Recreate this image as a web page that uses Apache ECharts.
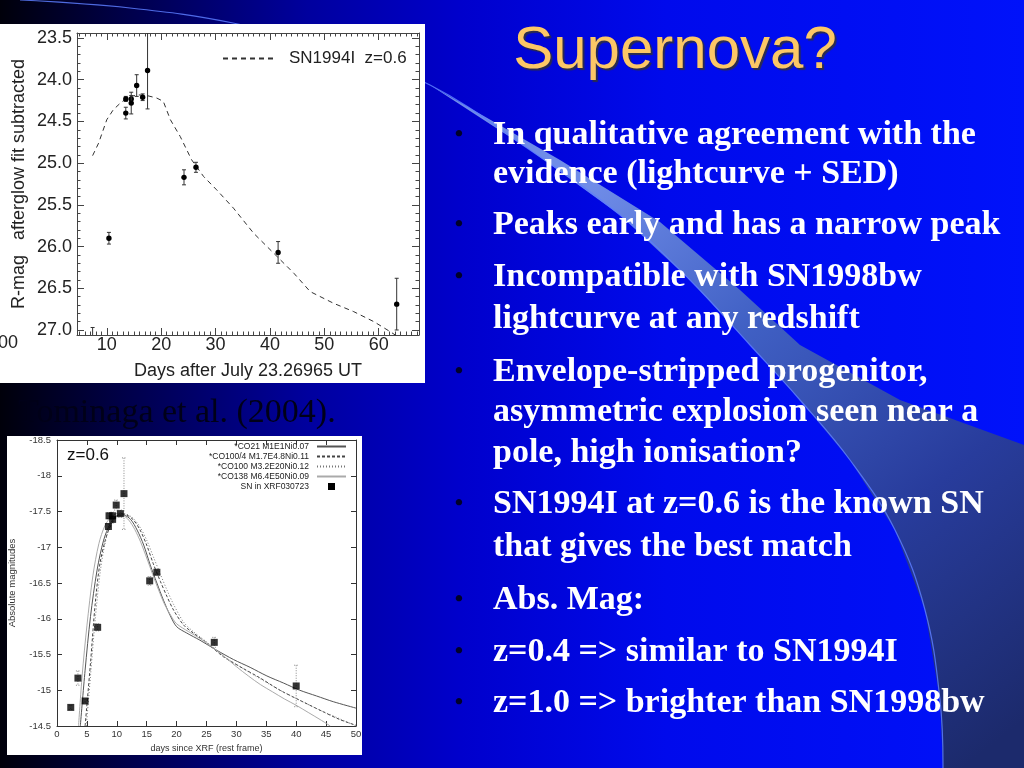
<!DOCTYPE html>
<html><head><meta charset="utf-8">
<script src="https://cdn.jsdelivr.net/npm/echarts@6/dist/echarts.min.js"></script>
<style>html,body{margin:0;padding:0;background:#000;overflow:hidden}#c{width:1024px;height:768px}</style>
</head><body><div id="c"></div>
<script>
// ---------- Chart 1 (R-mag, afterglow fit subtracted) ----------
const days1 = [7.4, 10.4, 13.5, 13.5, 14.5, 14.5, 15.5, 16.6, 17.5, 24.2, 26.4, 41.5, 63.3];
const mags1 = [27.3, 25.9, 24.23, 24.4, 24.23, 24.28, 24.07, 24.21, 23.89, 25.17, 25.05, 26.07, 26.69];
const errs1 = [0.33, 0.07, 0.03, 0.07, 0.04, 0.13, 0.13, 0.04, 0.46, 0.09, 0.06, 0.13, 0.31];
const snDays = [7.4, 8.5, 10, 11.2, 12.5, 13.7, 15.5, 17.4, 19.2, 20.4, 21.7, 23.5, 25.6, 27.8, 30.2, 33.3, 37, 40.7, 44.4, 47.4, 51.7, 55.4, 59.1, 62.1, 63.5];
const snMags = [24.91, 24.76, 24.48, 24.36, 24.28, 24.22, 24.18, 24.19, 24.22, 24.26, 24.48, 24.68, 24.96, 25.16, 25.32, 25.54, 25.84, 26.08, 26.32, 26.54, 26.68, 26.78, 26.9, 27.02, 27.08];
const xTicks1 = [10, 20, 30, 40, 50, 60];
const yTicks1 = [23.5, 24.0, 24.5, 25.0, 25.5, 26.0, 26.5, 27.0];
const legend1 = 'SN1994I  z=0.6';
const xName1 = 'Days after July 23.26965 UT';
const yName1 = 'R-mag   afterglow fit subtracted';

// ---------- Chart 2 (absolute magnitudes, Tominaga et al.) ----------
const days2 = [2.3, 3.5, 4.7, 6.8, 8.6, 8.7, 9.3, 9.3, 9.9, 10.6, 11.2, 15.5, 16.7, 26.3, 40.0];
const mags2 = [-14.76, -15.17, -14.85, -15.88, -17.29, -17.44, -17.44, -17.39, -17.59, -17.47, -17.75, -16.53, -16.65, -15.67, -15.06];
const errs2 = [0.03, 0.1, 0.03, 0.05, 0.04, 0.04, 0.05, 0.05, 0.07, 0.05, 0.5, 0.06, 0.03, 0.07, 0.29];
const co21Days = [3.9, 4.7, 5.6, 6.7, 7.8, 8.9, 10, 11.1, 12.3, 13.4, 14.5, 15.6, 16.7, 17.8, 18.9, 20, 21.7, 23.9, 26.7, 29.5, 32.3, 35.1, 37.9, 40.6, 43.4, 46.2, 50];
const co21Mags = [-14.5, -15.28, -16.03, -16.68, -17.1, -17.33, -17.44, -17.45, -17.39, -17.24, -17.03, -16.75, -16.5, -16.26, -16.05, -15.89, -15.8, -15.7, -15.56, -15.43, -15.32, -15.2, -15.1, -15.0, -14.92, -14.84, -14.75];
const co1004Days = [4.7, 5.6, 6.4, 7.2, 8.4, 9.5, 10.6, 11.7, 12.8, 13.9, 15, 16.1, 17.3, 18.4, 19.5, 21.2, 22.8, 25.1, 27.8, 30.6, 34, 37.3, 40.6, 44, 47.3, 50];
const co1004Mags = [-14.5, -15.38, -16.22, -16.78, -17.19, -17.38, -17.47, -17.45, -17.38, -17.24, -17.03, -16.77, -16.52, -16.31, -16.12, -15.91, -15.8, -15.66, -15.47, -15.33, -15.17, -15.0, -14.86, -14.72, -14.59, -14.51];
const co100Days = [4.9, 5.6, 6.4, 7.3, 8.3, 9.4, 10.6, 11.7, 12.8, 13.9, 15, 16.1, 17.3, 18.4, 19.5, 21.2, 22.8, 25.1, 27.8, 30.6, 34, 37.3, 40.6, 44, 47.3, 50];
const co100Mags = [-14.5, -15.2, -16.0, -16.7, -17.15, -17.37, -17.47, -17.46, -17.4, -17.28, -17.1, -16.87, -16.62, -16.4, -16.2, -15.95, -15.82, -15.67, -15.48, -15.33, -15.16, -15.0, -14.86, -14.72, -14.6, -14.5];
const co138Days = [3.6, 4.2, 5, 6, 7, 8, 9, 10, 11, 12, 13, 14, 15, 16, 17, 18, 19, 20, 22, 24, 26, 28, 30, 32, 34, 36, 38, 40, 42, 44, 45.7];
const co138Mags = [-14.5, -15.2, -15.9, -16.6, -17.05, -17.3, -17.42, -17.47, -17.45, -17.38, -17.25, -17.07, -16.85, -16.62, -16.4, -16.2, -16.05, -15.93, -15.82, -15.72, -15.6, -15.47, -15.33, -15.2, -15.08, -14.98, -14.88, -14.79, -14.69, -14.59, -14.5];
const modelNames = ['*CO21 M1E1Ni0.07', '*CO100/4 M1.7E4.8Ni0.11', '*CO100 M3.2E20Ni0.12', '*CO138 M6.4E50Ni0.09'];
const dataName2 = 'SN in XRF030723';
const xName2 = 'days since XRF (rest frame)';
const yName2 = 'Absolute magnitudes';
const zLabel2 = 'z=0.6';

// ---------- Slide text ----------
const titleText = 'Supernova?';
const bulletLines = [
  ['In qualitative agreement with the', true],
  ['evidence (lightcurve + SED)', false],
  ['Peaks early and has a narrow peak', true],
  ['Incompatible with SN1998bw', true],
  ['lightcurve at any redshift', false],
  ['Envelope-stripped progenitor,', true],
  ['asymmetric explosion seen near a', false],
  ['pole, high ionisation?', false],
  ['SN1994I at z=0.6 is the known SN', true],
  ['that gives the best match', false],
  ['Abs. Mag:', true],
  ['z=0.4 => similar to SN1994I', true],
  ['z=1.0 => brighter than SN1998bw', true]
];
const bulletY = [135, 174, 225, 277, 319, 372, 412, 453, 504, 547, 600, 652, 703];
const citation = 'Tominaga et al. (2004).';

const zip = (a, b) => a.map((v, i) => [v, b[i]]);
const xMinor1 = []; for (let d = 5; d <= 67; d++) xMinor1.push(d);
const yMinor1 = []; for (let k = 235; k <= 270; k++) yMinor1.push(k / 10);

const SANS = 'Liberation Sans, Arial, Helvetica, sans-serif';
const SERIF = 'Liberation Serif, Times New Roman, serif';

function errRender(color, dash, withDot) {
  return function (params, api) {
    const x = api.value(0), y = api.value(1), e = api.value(2);
    const c = api.coord([x, y]);
    const t = api.coord([x, y - e]);
    const b = api.coord([x, y + e]);
    const cap = 2;
    const st = { stroke: color, lineWidth: 1, lineDash: dash };
    const ch = [
      { type: 'line', shape: { x1: c[0], y1: t[1], x2: c[0], y2: b[1] }, style: st },
      { type: 'line', shape: { x1: c[0] - cap, y1: t[1], x2: c[0] + cap, y2: t[1] }, style: st },
      { type: 'line', shape: { x1: c[0] - cap, y1: b[1], x2: c[0] + cap, y2: b[1] }, style: st }
    ];
    if (withDot) ch.push({ type: 'circle', shape: { cx: c[0], cy: c[1], r: 2.7 }, style: { fill: '#000' } });
    return { type: 'group', children: ch };
  };
}

const G1 = { left: 77, top: 33, width: 342, height: 302 };
const G2 = { left: 57, top: 440, width: 299, height: 286 };
const ax1 = '#444';

function minorX(pos) {
  return { gridIndex: 1, type: 'value', position: pos, min: 4.53, max: 67.4,
    axisLine: { show: false }, splitLine: { show: false }, axisLabel: { show: false },
    axisTick: { show: true, inside: true, length: 3.5, customValues: xMinor1, lineStyle: { color: ax1 } } };
}
function minorY(pos) {
  return { gridIndex: 1, type: 'value', position: pos, inverse: true, min: 23.44, max: 27.06,
    axisLine: { show: false }, splitLine: { show: false }, axisLabel: { show: false },
    axisTick: { show: true, inside: true, length: 3.5, customValues: yMinor1, lineStyle: { color: ax1 } } };
}

// Background decoration
const wedgeLower = [[430,85],[530,150],[620,215],[690,280],[750,345],[800,400],[850,460],[895,530],[925,610],[940,700],[943,768]];
const wedgeUpper = [[430,85],[560,160],[660,222],[740,290],[800,345],[900,400],[1024,445]];
const wedgePts = wedgeUpper.concat([[1024,768]]).concat(wedgeLower.slice().reverse());
const arcPts = [[20,0],[130,8],[233,23],[330,48],[430,85]].concat(wedgeLower.slice(1));

const graphics = [
  { type: 'rect', zlevel: -1, z: 0, shape: { x: 0, y: 0, width: 1024, height: 768 },
    style: { fill: new echarts.graphic.LinearGradient(0, 0, 1, 0, [
      { offset: 0, color: '#00000a' }, { offset: 0.12, color: '#000048' }, { offset: 0.3, color: '#00009e' },
      { offset: 0.45, color: '#0000cc' }, { offset: 0.65, color: '#000aec' }, { offset: 1, color: '#0012fa' }]) } },
  { type: 'polygon', zlevel: -1, z: 1, shape: { points: wedgePts },
    style: { fill: new echarts.graphic.LinearGradient(600, 180, 1024, 720, [
      { offset: 0, color: '#6f8ce8' }, { offset: 0.3, color: '#4060c4' }, { offset: 0.65, color: '#283c9c' }, { offset: 1, color: '#1c2a6c' }], true) } },
  { type: 'polyline', zlevel: -1, z: 2, shape: { points: arcPts, smooth: 0.4 },
    style: { stroke: '#5c7cff', lineWidth: 1.2, fill: null, opacity: 0.85 } },
  { type: 'rect', zlevel: -1, z: 3, shape: { x: 0, y: 24, width: 425, height: 359 }, style: { fill: '#ffffff' } },
  { type: 'rect', zlevel: -1, z: 3, shape: { x: 7, y: 436, width: 355, height: 319 }, style: { fill: '#ffffff' } },
  { type: 'text', z: 10, style: { x: 675, y: 51, text: titleText, font: '60px ' + SANS, fill: '#fcc766',
      align: 'center', verticalAlign: 'middle', textShadowColor: 'rgba(50,50,50,0.85)', textShadowOffsetX: 2, textShadowOffsetY: 2, textShadowBlur: 1 } },
  { type: 'text', z: 10, style: { x: 18, y: 413, text: citation, font: '34px ' + SERIF, fill: '#000018', verticalAlign: 'middle' } },
  { type: 'text', z: 10, style: { x: -2, y: 343, text: '00', font: '18px ' + SANS, fill: '#222', verticalAlign: 'middle' } },
  { type: 'text', z: 10, style: { x: 67, y: 455, text: zLabel2, font: '17px ' + SANS, fill: '#111', verticalAlign: 'middle' } }
];
bulletLines.forEach((bl, i) => {
  if (bl[1]) graphics.push({ type: 'text', z: 10, style: { x: 459, y: bulletY[i], text: '\u2022', font: 'bold 24px ' + SERIF, fill: '#00002a', align: 'center', verticalAlign: 'middle' } });
  graphics.push({ type: 'text', z: 10, style: { x: 493, y: bulletY[i], text: bl[0], font: 'bold 34px ' + SERIF, fill: '#ffffff', verticalAlign: 'middle' } });
});

const option = {
  animation: false,
  backgroundColor: 'transparent',
  textStyle: { fontFamily: SANS },
  grid: [Object.assign({}, G1), Object.assign({}, G1), Object.assign({}, G2)],
  legend: [
    { data: [legend1], left: 222, top: 50, padding: 0, itemWidth: 51, itemHeight: 12, itemStyle: { opacity: 0 },
      textStyle: { fontSize: 17, color: '#222', fontFamily: SANS, padding: [0, 0, 0, 10] }, selectedMode: false },
    { data: modelNames.concat([{ name: dataName2, icon: 'path://M0,0L1,0L1,1L0,1Z', itemStyle: { opacity: 1 } }]),
      orient: 'vertical', align: 'right', itemStyle: { opacity: 0 },
      right: 677, top: 442, padding: 0, itemWidth: 29, itemHeight: 7, itemGap: 1, selectedMode: false,
      textStyle: { fontSize: 8.5, lineHeight: 7, color: '#222', fontFamily: SANS, padding: [0, 3, 0, 0] } }
  ],
  xAxis: [
    { gridIndex: 0, type: 'value', position: 'bottom', min: 4.53, max: 67.4, splitLine: { show: false },
      axisLine: { show: true, onZero: false, lineStyle: { color: ax1 } },
      axisTick: { show: true, inside: true, length: 7, customValues: xTicks1, lineStyle: { color: ax1 } },
      axisLabel: { customValues: xTicks1, fontSize: 18, color: '#222', margin: 1 },
      name: xName1, nameLocation: 'middle', nameGap: 27, nameTextStyle: { fontSize: 18, color: '#222' } },
    { gridIndex: 0, type: 'value', position: 'top', min: 4.53, max: 67.4, splitLine: { show: false },
      axisLine: { show: true, onZero: false, lineStyle: { color: ax1 } },
      axisTick: { show: true, inside: true, length: 7, customValues: xTicks1, lineStyle: { color: ax1 } },
      axisLabel: { show: false } },
    minorX('bottom'), minorX('top'),
    { gridIndex: 2, type: 'value', position: 'bottom', min: 0, max: 50, interval: 5, splitLine: { show: false },
      axisLine: { show: true, onZero: false, lineStyle: { color: '#333' } },
      axisTick: { show: true, inside: true, length: 5, lineStyle: { color: '#333' } },
      axisLabel: { fontSize: 9.5, color: '#333', margin: 3 },
      name: xName2, nameLocation: 'middle', nameGap: 18, nameTextStyle: { fontSize: 9, color: '#333' } },
    { gridIndex: 2, type: 'value', position: 'top', min: 0, max: 50, interval: 5, splitLine: { show: false },
      axisLine: { show: true, onZero: false, lineStyle: { color: '#333' } },
      axisTick: { show: true, inside: true, length: 5, lineStyle: { color: '#333' } },
      axisLabel: { show: false } }
  ],
  yAxis: [
    { gridIndex: 0, type: 'value', position: 'left', inverse: true, min: 23.44, max: 27.06, splitLine: { show: false },
      axisLine: { show: true, onZero: false, lineStyle: { color: ax1 } },
      axisTick: { show: true, inside: true, length: 7, customValues: yTicks1, lineStyle: { color: ax1 } },
      axisLabel: { customValues: yTicks1, fontSize: 18, color: '#222', margin: 5, formatter: v => Number(v).toFixed(1) },
      name: yName1, nameLocation: 'middle', nameGap: 49, nameTextStyle: { fontSize: 18, color: '#222' } },
    { gridIndex: 0, type: 'value', position: 'right', inverse: true, min: 23.44, max: 27.06, splitLine: { show: false },
      axisLine: { show: true, onZero: false, lineStyle: { color: ax1 } },
      axisTick: { show: true, inside: true, length: 7, customValues: yTicks1, lineStyle: { color: ax1 } },
      axisLabel: { show: false } },
    minorY('left'), minorY('right'),
    { gridIndex: 2, type: 'value', position: 'left', inverse: true, min: -18.5, max: -14.5, interval: 0.5, splitLine: { show: false },
      axisLine: { show: true, onZero: false, lineStyle: { color: '#333' } },
      axisTick: { show: true, inside: true, length: 5, lineStyle: { color: '#333' } },
      axisLabel: { fontSize: 9.5, color: '#333', margin: 6 },
      name: yName2, nameLocation: 'middle', nameGap: 40, nameTextStyle: { fontSize: 9.5, color: '#333' } },
    { gridIndex: 2, type: 'value', position: 'right', inverse: true, min: -18.5, max: -14.5, interval: 0.5, splitLine: { show: false },
      axisLine: { show: true, onZero: false, lineStyle: { color: '#333' } },
      axisTick: { show: true, inside: true, length: 5, lineStyle: { color: '#333' } },
      axisLabel: { show: false } }
  ],
  series: [
    { name: legend1, type: 'line', xAxisIndex: 0, yAxisIndex: 0, data: zip(snDays, snMags), symbol: 'none', clip: true,
      lineStyle: { color: '#333', width: 1, type: [5, 4] }, itemStyle: { color: '#333' } },
    { type: 'custom', xAxisIndex: 0, yAxisIndex: 0, clip: true, data: days1.map((d, i) => [d, mags1[i], errs1[i]]),
      encode: { x: 0, y: 1 }, renderItem: errRender('#333', null, true), z: 5 },
    { name: modelNames[0], type: 'line', xAxisIndex: 4, yAxisIndex: 4, data: zip(co21Days, co21Mags), symbol: 'none', smooth: 0.3, clip: true,
      lineStyle: { color: '#555', width: 1 }, itemStyle: { color: '#555' } },
    { name: modelNames[1], type: 'line', xAxisIndex: 4, yAxisIndex: 4, data: zip(co1004Days, co1004Mags), symbol: 'none', smooth: 0.3, clip: true,
      lineStyle: { color: '#444', width: 1, type: [3, 2] }, itemStyle: { color: '#444' } },
    { name: modelNames[2], type: 'line', xAxisIndex: 4, yAxisIndex: 4, data: zip(co100Days, co100Mags), symbol: 'none', smooth: 0.3, clip: true,
      lineStyle: { color: '#777', width: 1, type: [1, 2] }, itemStyle: { color: '#777' } },
    { name: modelNames[3], type: 'line', xAxisIndex: 4, yAxisIndex: 4, data: zip(co138Days, co138Mags), symbol: 'none', smooth: 0.3, clip: true,
      lineStyle: { color: '#aaa', width: 1 }, itemStyle: { color: '#aaa' } },
    { type: 'custom', xAxisIndex: 4, yAxisIndex: 4, clip: true, data: days2.map((d, i) => [d, mags2[i], errs2[i]]),
      encode: { x: 0, y: 1 }, renderItem: errRender('#888', [1, 1.5], false), z: 4 },
    { name: dataName2, type: 'scatter', xAxisIndex: 4, yAxisIndex: 4, data: zip(days2, mags2), symbol: 'rect', symbolSize: 7,
      symbolKeepAspect: true, itemStyle: { color: '#000' }, z: 6 }
  ],
  graphic: graphics
};

const chart = echarts.init(document.getElementById('c'), null, { renderer: 'canvas', width: 1024, height: 768 });
chart.setOption(option);
</script></body></html>
